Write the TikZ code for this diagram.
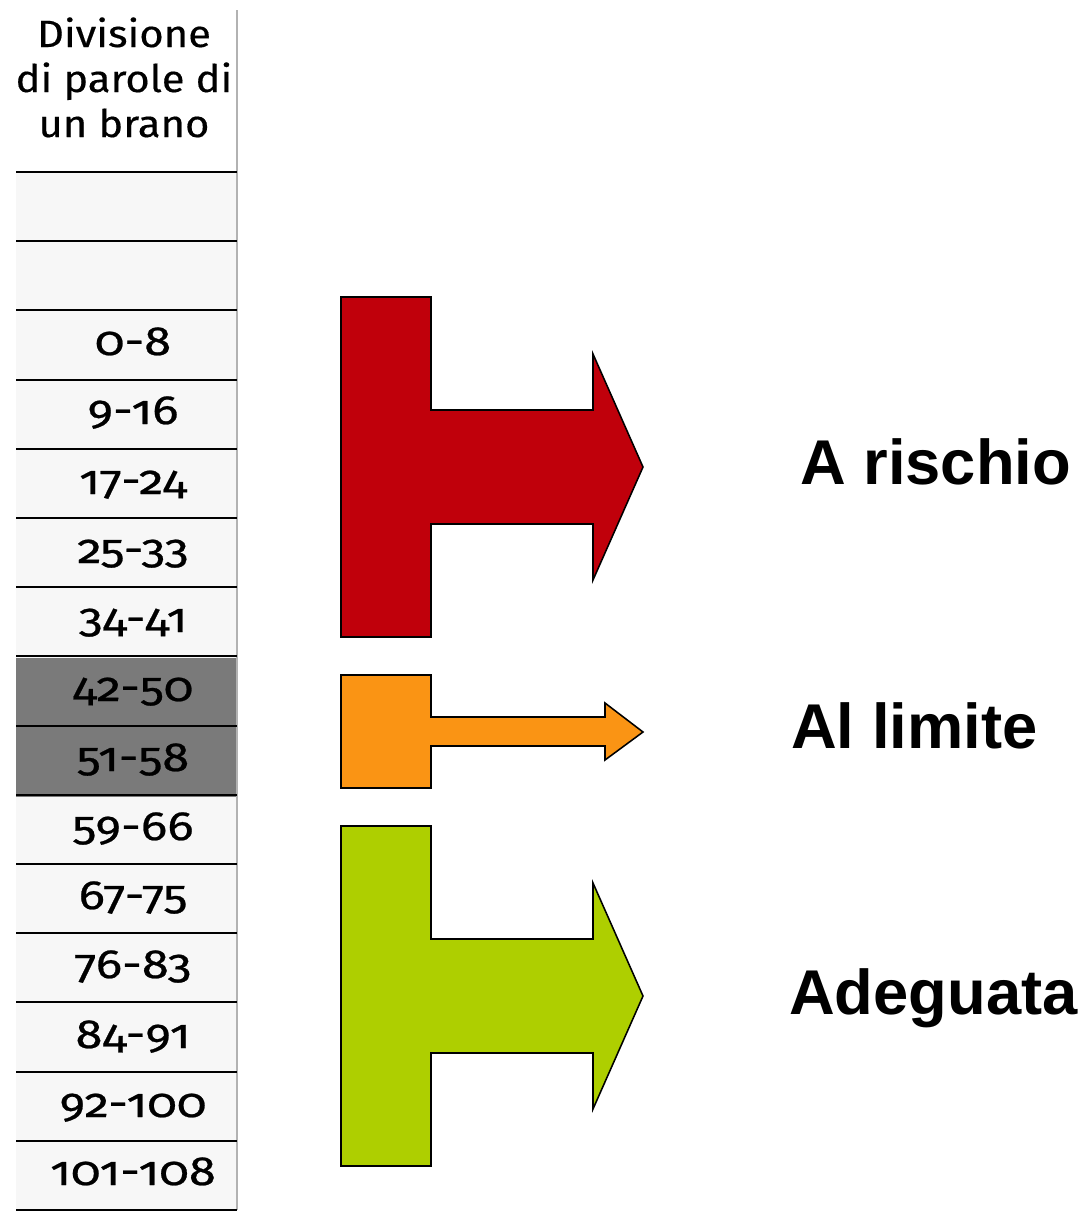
\documentclass[tikz,border=0pt]{standalone}
\usepackage{fontspec}
\setmainfont{Liberation Sans}
\newfontfamily\tablefont[Numbers=OldStyle,FakeStretch=1.2,FakeBold=0.6]{Fira Sans}
\newfontfamily\headfont[FakeStretch=1.1,FakeBold=0.4]{Fira Sans}
\usetikzlibrary{calc}

\definecolor{riskred}{RGB}{192,0,11}
\definecolor{limitorange}{RGB}{250,148,20}
\definecolor{okgreen}{RGB}{174,207,0}

\begin{document}
\begin{tikzpicture}[x=0.025cm,y=-0.025cm,
    rule/.style={line width=1.3pt,black},
    wordrange/.style={font=\tablefont\fontsize{29}{32}\selectfont,anchor=base,inner sep=0pt},
    level/.style={font=\bfseries\fontsize{45}{50}\selectfont,anchor=base west,inner sep=0pt},
    tarrow/.style={draw=black,line width=1.1pt,line join=miter}]
\useasboundingbox (0,0) rectangle (1087,1218);
\def\rowh{69.2}

% Table column with header
\fill[gray!6] (16,172) rectangle (237,658);
\fill[black!52] (16,658) rectangle (237,797);
\fill[gray!6] (16,797) rectangle (237,1210);
\draw[gray!60,line width=0.8pt] (237,10) -- (237,1210);
\foreach \i in {0,...,15}
    \draw[rule] (16,172+\i*\rowh) -- (237,172+\i*\rowh);
\node[font=\headfont\fontsize{27}{32}\selectfont,align=center,anchor=base,inner sep=0pt]
    (header) at (124,137) {Divisione\\di parole di\\un brano};

% Word ranges
\node[wordrange] (r1)  at (133,355)  {0-8};
\node[wordrange] (r2)  at (133,424)  {9-16};
\node[wordrange] (r3)  at (133,494)  {17-24};
\node[wordrange] (r4)  at (133,563)  {25-33};
\node[wordrange] (r5)  at (133,632)  {34-41};
\node[wordrange] (r6)  at (133,701)  {42-50};
\node[wordrange] (r7)  at (133,771)  {51-58};
\node[wordrange] (r8)  at (133,840)  {59-66};
\node[wordrange] (r9)  at (133,909)  {67-75};
\node[wordrange] (r10) at (133,978)  {76-83};
\node[wordrange] (r11) at (133,1048) {84-91};
\node[wordrange] (r12) at (133,1117) {92-100};
\node[wordrange] (r13) at (133,1185) {101-108};

% Bracket arrows
\draw[tarrow,fill=riskred] (341,297) -- (431,297) -- (431,410) -- (593,410)
    -- (593,354) -- (643,467) -- (593,580) -- (593,524) -- (431,524)
    -- (431,637) -- (341,637) -- cycle;
\draw[tarrow,fill=limitorange] (341,675) -- (431,675) -- (431,717) -- (605,717)
    -- (605,703) -- (643,732) -- (605,760) -- (605,746) -- (431,746)
    -- (431,788) -- (341,788) -- cycle;
\draw[tarrow,fill=okgreen] (341,826) -- (431,826) -- (431,939) -- (593,939)
    -- (593,883) -- (643,996) -- (593,1109) -- (593,1053) -- (431,1053)
    -- (431,1166) -- (341,1166) -- cycle;

% Levels
\node[level] (risk)  at (800,484)  {A rischio};
\node[level] (limit) at (791,748)  {Al limite};
\node[level] (okay)  at (789,1014) {Adeguata};
\end{tikzpicture}
\end{document}
